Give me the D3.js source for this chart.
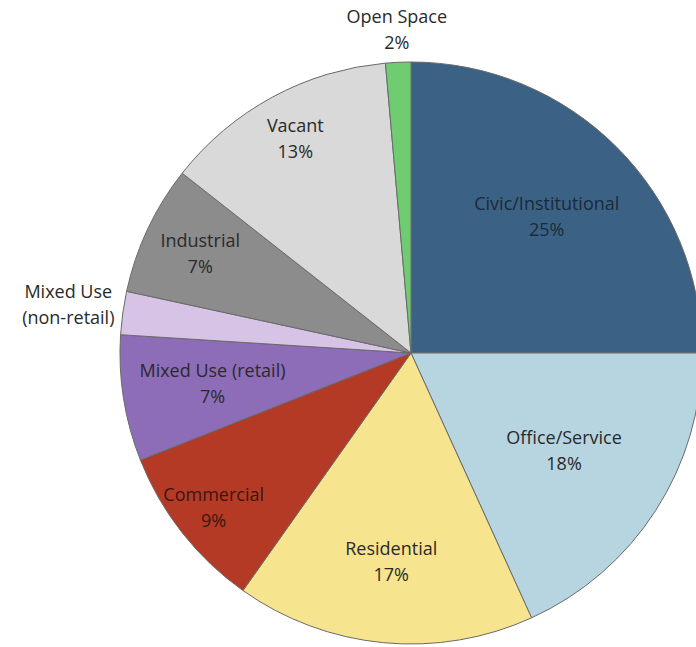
<!DOCTYPE html>
<html>
<head>
<meta charset="utf-8">
<script src="https://cdn.jsdelivr.net/npm/d3@7"></script>
<style>
html,body{margin:0;padding:0;background:#fff;}
svg{display:block;}
</style>
</head>
<body>
<svg id="chart" width="696" height="647"></svg>
<script>
const categories = ["Civic/Institutional","Office/Service","Residential","Commercial","Mixed Use (retail)","Mixed Use (non-retail)","Industrial","Vacant","Open Space"];
const values = [25, 18.2, 16.6, 9.2, 7, 2.4, 7.2, 13, 1.4];
const labelLines = [["Civic/Institutional","25%"],["Office/Service","18%"],["Residential","17%"],["Commercial","9%"],["Mixed Use (retail)","7%"],["Mixed Use","(non-retail)"],["Industrial","7%"],["Vacant","13%"],["Open Space","2%"]];
const colors = ["#3b6285","#b6d5e0","#f7e48f","#b53a25","#8d6db8","#d6c3e5","#8c8c8c","#d9d9d9","#6fcc70"];

// layout
const cx = 411, cy = 353, R = 291;
const labelR = [192, 182, 210, 251, 201, 346, 233, 243, 323];

const svg = d3.select("#chart");
const g = svg.append("g").attr("transform", `translate(${cx},${cy})`);

const pie = d3.pie().sort(null).value(d => d)(values);
const arc = d3.arc().innerRadius(0).outerRadius(R);

g.selectAll("path.slice").data(pie).enter().append("path")
  .attr("class","slice")
  .attr("d", arc)
  .attr("fill", (d,i) => colors[i])
  .attr("stroke", "#6a6a6a")
  .attr("stroke-width", 1);

const lineH = 26;
pie.forEach((d,i) => {
  const la = d3.arc().innerRadius(labelR[i]).outerRadius(labelR[i]);
  const [x,y] = la.centroid(d);
  const t = g.append("text")
    .attr("text-anchor","middle")
    .attr("font-family","'Open Sans', sans-serif")
    .attr("font-size", 18)
    .attr("fill", i === 0 ? "#1a2a3a" : (i === 3 ? "#3a1510" : "#2a2a2a"));
  labelLines[i].forEach((ln, k) => {
    t.append("tspan").attr("x", x).attr("y", y + (k - 0.5) * lineH + 6).text(ln);
  });
});
</script>
</body>
</html>
